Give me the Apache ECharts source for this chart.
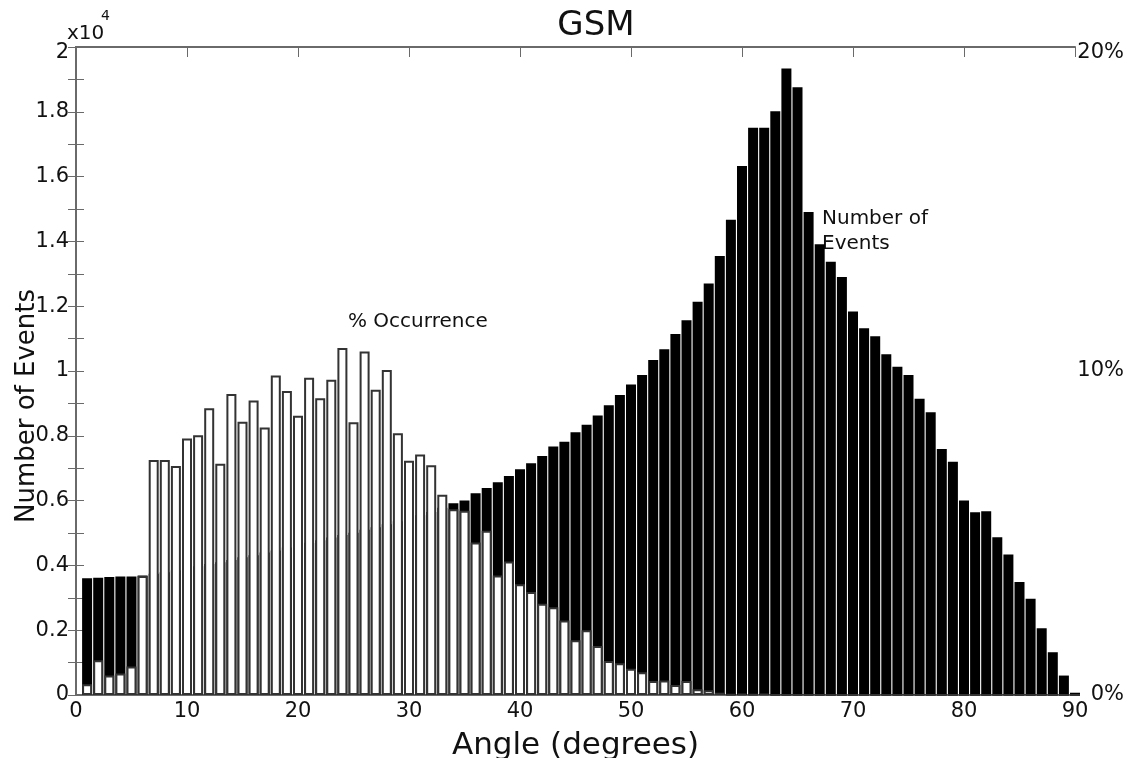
<!DOCTYPE html>
<html>
<head>
<meta charset="utf-8">
<style>
html,body{margin:0;padding:0;background:#fff;}
#chart{width:1127px;height:758px;}
</style>
<script src="https://cdn.jsdelivr.net/npm/echarts@6/dist/echarts.min.js"></script>
</head>
<body>
<div id="chart"></div>
<script>
// Angle bins (degrees), one bar per degree
const angles = [1,2,3,4,5,6,7,8,9,10,11,12,13,14,15,16,17,18,19,20,21,22,23,24,25,26,27,28,29,30,
  31,32,33,34,35,36,37,38,39,40,41,42,43,44,45,46,47,48,49,50,51,52,53,54,55,56,57,58,59,60,
  61,62,63,64,65,66,67,68,69,70,71,72,73,74,75,76,77,78,79,80,81,82,83,84,85,86,87,88,89,90];

// Number of events (black bars, left axis)
const numEvents = [3600,3620,3640,3660,3660,3690,3740,3790,3850,3900,3970,4040,4100,4170,4250,4310,4400,4460,4550,4620,
  4700,4780,4860,4940,5010,5100,5180,5270,5360,5450,5550,5650,5780,5920,6000,6230,6390,6570,6760,6970,
  7150,7380,7670,7820,8110,8340,8630,8940,9260,9580,9880,10340,10670,11140,11570,12140,12700,13550,14670,16330,
  17510,17510,18020,19340,18760,14910,13910,13370,12900,11840,11320,11070,10520,10130,9880,9140,8730,7590,7200,6000,
  5640,5670,4870,4340,3490,2970,2060,1320,600,70];

// % occurrence (white bars, right axis)
const pctOccurrence = [0.33,1.07,0.60,0.66,0.88,3.67,7.25,7.25,7.07,7.92,8.02,8.85,7.14,9.29,8.43,9.09,8.26,9.86,9.38,8.62,
  9.79,9.16,9.73,10.71,8.42,10.60,9.42,10.03,8.08,7.23,7.42,7.09,6.18,5.73,5.69,4.71,5.07,3.69,4.12,3.42,
  3.18,2.82,2.71,2.30,1.69,2.00,1.51,1.05,0.98,0.81,0.70,0.43,0.45,0.31,0.43,0.18,0.15,0.07,0.02,0.03,
  0.01,0.03,0,0,0,0,0,0,0,0,0,0,0,0,0,0,0,0,0,0,
  0,0,0,0,0,0,0,0,0,0];

const FONT = 'DejaVu Sans';
const axisGray = '#6a6a6a';

const chart = echarts.init(document.getElementById('chart'), null, {renderer: 'canvas'});

const eventsData = angles.map((a, i) => [a, numEvents[i]]);
const pctData = angles.map((a, i) => [a, pctOccurrence[i]]);

const topRich = {t: {fontFamily: FONT, fontSize: 21, color: '#111', padding: [12, 0, 0, 0]}};

chart.setOption({
  animation: false,
  backgroundColor: '#fff',
  title: {
    text: 'GSM',
    left: 591, top: 4, textAlign: 'center',
    textStyle: {fontFamily: FONT, fontSize: 34, fontWeight: 'normal', color: '#111'}
  },
  grid: {left: 76, right: 52, top: 47, bottom: 63, containLabel: false, outerBoundsMode: 'none'},
  xAxis: [{
    type: 'value', min: 0, max: 90, interval: 10, position: 'bottom',
    name: 'Angle (degrees)', nameLocation: 'middle', nameGap: 35,
    nameTextStyle: {fontFamily: FONT, fontSize: 31, color: '#111'},
    axisLine: {show: true, lineStyle: {color: axisGray, width: 2}},
    axisTick: {show: false},
    axisLabel: {fontFamily: FONT, fontSize: 21, color: '#111', margin: 6},
    splitLine: {show: false}
  }, {
    type: 'value', min: 0, max: 90, interval: 10, position: 'top',
    axisLine: {show: true, onZero: false, lineStyle: {color: axisGray, width: 2}},
    axisTick: {show: true, inside: true, length: 10, lineStyle: {color: axisGray, width: 1}},
    axisLabel: {show: false},
    splitLine: {show: false}
  }],
  yAxis: [{
    type: 'value', min: 0, max: 20000, interval: 1000, position: 'left',
    axisLine: {show: true, lineStyle: {color: axisGray, width: 2}},
    axisTick: {show: true, inside: true, length: 8, lineStyle: {color: axisGray, width: 1}},
    axisLabel: {
      fontFamily: FONT, fontSize: 21, color: '#111', margin: 7, rich: topRich,
      formatter: v => {
        if (Math.round(v) % 2000 !== 0) return '';
        const s = String(v / 10000);
        return v >= 20000 ? '{t|' + s + '}' : s;
      }
    },
    splitLine: {show: false}
  }, {
    type: 'value', min: 0, max: 20, interval: 1, position: 'right',
    axisLine: {show: true, lineStyle: {color: axisGray, width: 2}},
    axisTick: {show: true, inside: true, length: 8, lineStyle: {color: axisGray, width: 1}},
    axisLabel: {
      fontFamily: FONT, fontSize: 21, color: '#111', margin: 49, align: 'right', rich: topRich,
      formatter: v => {
        if (Math.round(v) % 10 !== 0) return '';
        return v >= 20 ? '{t|' + v + '%}' : v + '%';
      }
    },
    splitLine: {show: false}
  }],
  series: [{
    name: 'Number of Events', type: 'bar',
    xAxisIndex: 0, yAxisIndex: 0,
    data: eventsData,
    barWidth: 10, barGap: '-100%',
    clip: true,
    itemStyle: {color: '#000', borderWidth: 0}
  }, {
    name: '% Occurrence', type: 'bar',
    xAxisIndex: 0, yAxisIndex: 1,
    data: pctData,
    barWidth: 10, barGap: '-100%',
    clip: true,
    itemStyle: {color: '#fff', borderColor: '#333', borderWidth: 2}
  }],
  graphic: [
    {type: 'text', left: 67, top: 24, style: {text: 'x10', fontFamily: FONT, fontSize: 20, fill: '#111'}},
    {type: 'text', left: 101, top: 9, style: {text: '4', fontFamily: FONT, fontSize: 14, fill: '#111'}},
    {type: 'text', x: 27, y: 406, rotation: Math.PI / 2,
      style: {text: 'Number of Events', fontFamily: FONT, fontSize: 26, fill: '#111', align: 'center', verticalAlign: 'middle'}},
    {type: 'text', left: 348, top: 312, style: {text: '% Occurrence', fontFamily: FONT, fontSize: 20, fill: '#111'}},
    {type: 'text', left: 822, top: 206, style: {text: 'Number of\nEvents', fontFamily: FONT, fontSize: 20, lineHeight: 25, fill: '#111'}}
  ]
});
</script>
</body>
</html>
